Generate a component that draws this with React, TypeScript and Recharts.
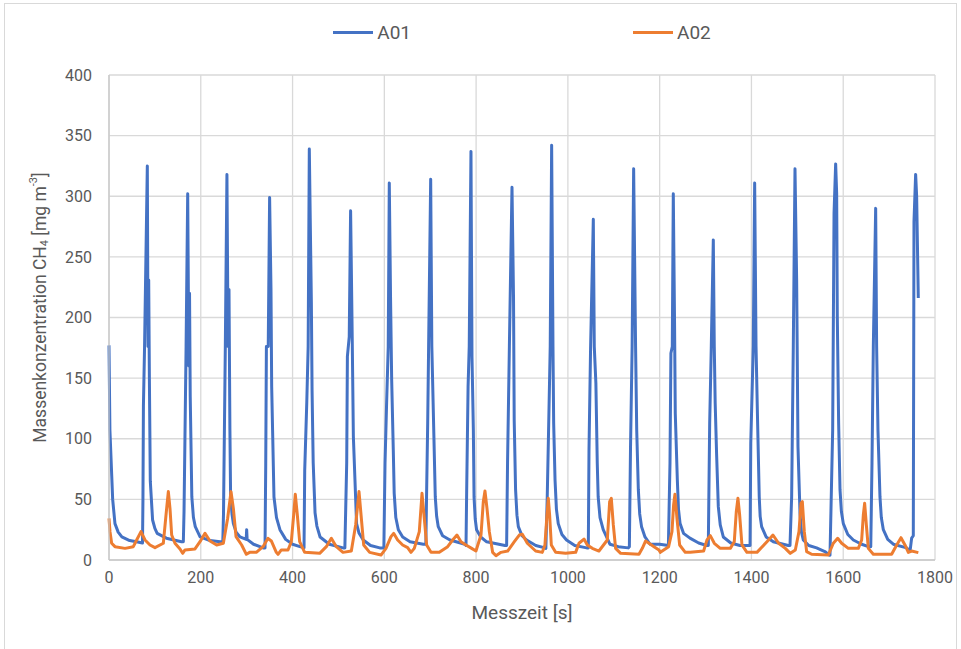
import React from 'react';
import { CartesianGrid, Label, Legend, Line, LineChart, XAxis, YAxis } from 'recharts';

// Messzeit ticks [s] and concentration ticks [mg m-3]
const X_TICKS = [0, 200, 400, 600, 800, 1000, 1200, 1400, 1600, 1800];
const Y_TICKS = [0, 50, 100, 150, 200, 250, 300, 350, 400];
const SERIES_NAMES = ['A01', 'A02'];

// [Messzeit s, CH4 mg m-3]
const A01_POINTS: [number, number][] = [
    [0, 177], [2, 107], [6, 69], [8, 50], [13, 30], [20, 23], [28, 19], [45, 16], [60, 15], [73, 14],
    [74, 51], [75, 127], [77.5, 176], [83.5, 325], [85, 176], [86.5, 231], [88, 150], [90, 65], [95, 33], [100, 26], [105, 22], [125, 18], [158, 15],
    [162, 15], [163.5, 40], [165.5, 100], [168, 176], [171.5, 302], [174, 160], [175.5, 220], [177, 135], [180.5, 52], [184, 35], [188, 27.5], [198.5, 19], [220, 16], [242, 15],
    [248, 15], [249.5, 38], [253.5, 176], [257, 318], [259.5, 176], [261.5, 223], [263.5, 107], [265, 52], [268, 38], [271, 30], [277, 23], [285.5, 19], [299, 17], [300, 25], [301, 17], [315, 13], [336, 10],
    [340, 10], [341.5, 77], [343, 176], [347, 176], [350, 299], [353, 223], [354.5, 143], [356.5, 107], [359.5, 52], [365, 35], [372.5, 25], [385, 17], [400, 13], [416, 11],
    [425, 10], [426.5, 74], [431, 130], [434, 176], [436.5, 339], [441, 212], [442.5, 140], [445, 80], [449, 39], [453, 28], [460, 19], [480, 13], [510, 10],
    [514, 10], [518, 80], [519.5, 168], [523.5, 184], [526.5, 288], [530, 184], [532.5, 102], [536, 66], [539.5, 30], [545, 22], [554, 16.5], [570, 12], [590, 10],
    [599, 10], [601.5, 80], [605, 130], [608.5, 176], [610.8, 311], [613.5, 217], [616, 148.5], [619.5, 91], [621.5, 55], [625, 35], [630.5, 25], [640, 19], [656, 15], [685, 13],
    [690.5, 13], [692, 52], [694.5, 113], [696.5, 176], [701, 314], [703.5, 176], [708, 102], [711, 52], [714, 36], [717.5, 27.5], [727, 20], [743, 16.5], [775.5, 13],
    [778, 12], [779.5, 59], [782.5, 143], [785, 176], [788.8, 337], [791, 168], [794, 107], [795.5, 52], [798, 34], [801, 25], [810, 19], [823, 15], [863, 12],
    [866.5, 12], [868.5, 80], [872.5, 176], [878.2, 307.5], [881.5, 217], [883, 115.5], [886, 58], [889, 37], [892, 27.5], [900, 20], [910, 16.5], [930, 12], [950, 10],
    [952, 9.6], [955, 52], [958.5, 118], [961.5, 176], [964.6, 342], [967.5, 176], [969, 113], [972, 66], [975, 42], [979, 30], [987, 21], [997, 16.5], [1015, 12], [1041, 10],
    [1044.5, 10], [1046, 91], [1049.5, 176], [1055.4, 281], [1057.5, 176], [1061, 146], [1064, 80], [1066, 52], [1070, 35], [1077, 25], [1091.5, 13], [1110, 11], [1131.5, 10],
    [1134, 11], [1136.5, 93.5], [1140, 176], [1143.3, 322.6], [1147.5, 176], [1150, 107], [1153.5, 58], [1156.5, 38], [1160.5, 27.5], [1168, 19], [1179, 13], [1200, 13],
    [1219, 12], [1222.5, 80], [1224.5, 170.5], [1227.5, 176], [1229.7, 302], [1232.5, 192.5], [1234, 121], [1238.5, 66], [1241, 42], [1244.5, 30], [1252, 22], [1266, 18], [1285, 14], [1302.5, 12],
    [1306, 12], [1309, 113], [1312.5, 176], [1316.9, 264], [1319, 176], [1321, 129], [1324, 88], [1327.8, 44], [1332, 29], [1338.7, 19], [1355, 14], [1375, 12], [1397, 12],
    [1398.5, 96], [1404, 176], [1407, 311], [1410, 176], [1413, 121], [1417, 52], [1419, 36], [1422.2, 27.5], [1432, 19], [1447.7, 15], [1480.4, 12],
    [1484, 12], [1487.6, 52], [1491.2, 176], [1494.9, 322.6], [1498.5, 231], [1501.4, 93.5], [1505.8, 38.5], [1509, 23], [1513, 16.5], [1525, 12], [1542, 10], [1560, 7], [1569.7, 4],
    [1571.2, 4], [1577, 107], [1580, 286], [1583.5, 326.7], [1585.7, 302.5], [1587.1, 200.7], [1590, 113], [1593, 58], [1596, 40], [1600.2, 30], [1610, 21], [1622, 16.5], [1640, 13], [1655, 11],
    [1660, 11], [1662.7, 80], [1665.6, 176], [1670.7, 290], [1672.8, 176], [1675.7, 107], [1680.1, 52], [1683, 35], [1687.4, 25], [1697, 17], [1709.2, 13], [1738.2, 10], [1745.5, 7],
    [1749.1, 18], [1752.7, 20], [1754.2, 279], [1757.8, 318], [1760, 300], [1763.6, 216],
];

const A02_POINTS: [number, number][] = [
    [0, 34.4], [2.2, 23.4], [5.8, 13.8], [13, 11], [35, 9.6], [53, 11], [60.3, 16.5], [69.7, 23.4], [78.5, 16.5], [89.3, 12.4], [100.2, 10.2],
    [118.4, 13.8], [124.2, 37.1], [129.3, 56.4], [132.9, 42.6], [136.6, 20.6], [143.8, 13.8], [154.7, 9.1], [160.5, 5.5], [165.6, 8.3], [187.4, 9.1],
    [198.3, 15.1], [209.2, 22], [220.1, 15.7], [234.6, 12.4], [249.2, 13.8], [258.6, 34.4], [265.9, 56.4], [271, 42.6], [276.8, 19.3], [289.1, 12.4],
    [299.3, 4.7], [306.5, 6.3], [321, 6.3], [335.6, 11], [346.5, 17.9], [353.7, 15.7], [364.6, 6.3], [368.3, 4.7], [375.5, 8.3], [390.1, 8.3],
    [397.3, 15.1], [402.4, 37.1], [406, 54.2], [410.4, 37.1], [415.5, 15.1], [426.4, 6.3], [459.1, 5.5], [473.6, 11], [484.5, 17.9], [495.4, 11],
    [509.9, 6.3], [528.1, 7.4], [537.5, 28.9], [544.8, 56.4], [549.9, 34.4], [555, 12.4], [568, 6.3],
    [592.7, 4.1], [603.6, 9.6], [614.5, 19.3], [620.3, 22], [629, 16.5], [639.9, 12.4], [650.8, 10.2], [658.1, 6.3], [665.3, 9.6], [676.2, 23.4],
    [682.1, 55], [687.1, 34.4], [692.2, 12.4], [701.7, 6.3], [719.8, 6.3], [738, 11], [748.9, 16.5], [758.3, 20.6], [767, 15.1], [777.9, 12.4],
    [790.3, 9.6], [799.7, 7.4], [810.6, 20.6], [815.7, 48.1], [819.3, 56.9], [823.7, 42.6], [828.8, 23.4], [836, 6.3], [843.3, 3.6], [854.2, 6.3],
    [868.7, 7.4], [883.3, 15.1],
    [894.1, 20.6], [900.7, 21.2], [911.6, 13.8], [929.7, 7.4], [944.2, 6.3], [950, 12.4], [954.4, 37.1], [957.3, 50.9], [960.2, 37.1], [963.9, 12.4],
    [973.3, 6.3], [995.1, 5.5], [1016.9, 6.3], [1024.2, 13.8], [1035.1, 17.3], [1042.3, 12.4], [1053.2, 9.6], [1067.7, 7.4], [1085.9, 16.5],
    [1091, 48.1], [1094.6, 50.9], [1099, 28.9], [1104, 9.6], [1115, 5.5], [1154.9, 4.7], [1162.2, 9.6], [1169.4, 15.7], [1176.7, 13.8], [1187.6, 11],
    [1198.5, 8.3],
    [1201.4, 6.3], [1219.5, 11], [1226.8, 23.4], [1230.4, 45.4], [1233.3, 54.2], [1237.7, 34.4], [1243.5, 12.4], [1255.8, 6.3], [1266.7, 6.3],
    [1295.8, 7.4], [1303.1, 16.5], [1310.3, 20.1], [1319.1, 13.8], [1332.1, 9.6], [1353.9, 9.6], [1362.6, 15.1], [1367, 39.9], [1370.6, 50.9],
    [1374.3, 37.1], [1379.3, 12.4], [1390.2, 6.3], [1412, 6.3], [1433.8, 15.1], [1446.9, 20.6], [1459.2, 13.8], [1473.8, 9.6], [1484.7, 5.5],
    [1495.6, 8.3], [1503.6, 23.4], [1508, 46.8], [1510.9, 48.1], [1515.2, 23.4], [1520.3, 6.9], [1531.2, 4.7], [1567.5, 4.1], [1578.4, 13.8],
    [1587.9, 17.9], [1596.6, 13.8], [1611.1, 9.6], [1632.9, 9.6], [1640.2, 16.5], [1643.8, 37.1], [1646.7, 46.8], [1650.4, 28.9], [1654.7, 9.6],
    [1665.6, 4.7], [1705.5, 4.7], [1716.5, 12.4], [1725.9, 18.4], [1734.6, 12.4], [1741.9, 6.3], [1749.2, 7.4], [1763.7, 6.1],
];

const COLORS = ['#4472C4', '#ED7D31'];
const TEXT_GRAY = '#595959';
const GRID_GRAY = '#d9d9d9';

const toRows = (points: [number, number][]) => points.map(([t, v]) => ({ t, v }));

const LegendContent = ({ payload }: any) => (
    <div style={{ display: 'flex', justifyContent: 'center', gap: 222 }}>
        {(payload || []).map((entry: any) => (
            <div key={entry.value} style={{ display: 'flex', alignItems: 'center' }}>
                <span style={{ display: 'inline-block', width: 40, height: 3, background: entry.color, marginRight: 4 }} />
                <span style={{ fontSize: 19, color: TEXT_GRAY }}>{entry.value}</span>
            </div>
        ))}
    </div>
);

const YTitle = ({ viewBox }: any) => {
    const cx = viewBox.x + 40;
    const cy = viewBox.y + viewBox.height / 2 - 10;
    return (
        <text
            x={cx}
            y={cy}
            transform={`rotate(-90 ${cx} ${cy})`}
            textAnchor="middle"
            dominantBaseline="central"
            fill={TEXT_GRAY}
            fontSize={17.5}
        >
            Massenkonzentration CH<tspan dy={4} fontSize={11}>4</tspan>
            <tspan dy={-4}> [mg m</tspan>
            <tspan dy={-7} fontSize={11}>-3</tspan>
            <tspan dy={7}>]</tspan>
        </text>
    );
};

const App = () => {
    const seriesData = [toRows(A01_POINTS), toRows(A02_POINTS)];

    return (
        <div style={{ position: 'absolute', left: 0, top: 0, width: 961, height: 649, fontFamily: 'Roboto, sans-serif', background: '#fff' }}>
            <div style={{ position: 'absolute', left: 4, top: 3, width: 953, height: 650, border: `1px solid ${GRID_GRAY}`, boxSizing: 'border-box' }} />
            <LineChart width={961} height={649} margin={{ top: 45, right: 26, bottom: 59, left: 0 }}>
                <CartesianGrid stroke={GRID_GRAY} strokeWidth={1.3} />
                <XAxis
                    type="number"
                    dataKey="t"
                    domain={[0, 1800]}
                    ticks={X_TICKS}
                    height={30}
                    tickLine={false}
                    tickSize={6}
                    tickMargin={6}
                    axisLine={{ stroke: '#c8c8c8', strokeWidth: 1.3 }}
                    tick={{ fill: TEXT_GRAY, fontSize: 16 }}
                >
                    <Label value="Messzeit [s]" position="bottom" offset={16} fill={TEXT_GRAY} fontSize={19} />
                </XAxis>
                <YAxis
                    type="number"
                    domain={[0, 400]}
                    ticks={Y_TICKS}
                    width={109}
                    tickLine={false}
                    tickSize={6}
                    tickMargin={11}
                    axisLine={{ stroke: '#c8c8c8', strokeWidth: 1.3 }}
                    tick={{ fill: TEXT_GRAY, fontSize: 16 }}
                >
                    <Label content={<YTitle />} />
                </YAxis>
                <Legend
                    verticalAlign="top"
                    height={30}
                    content={<LegendContent />}
                    wrapperStyle={{ top: 21, left: 109, width: 826 }}
                />
                {SERIES_NAMES.map((name, i) => (
                    <Line
                        key={name}
                        name={name}
                        data={seriesData[i]}
                        dataKey="v"
                        type="linear"
                        stroke={COLORS[i]}
                        strokeWidth={3}
                        strokeLinejoin="round"
                        dot={false}
                        activeDot={false}
                        isAnimationActive={false}
                    />
                ))}
            </LineChart>
        </div>
    );
};

export default App;
